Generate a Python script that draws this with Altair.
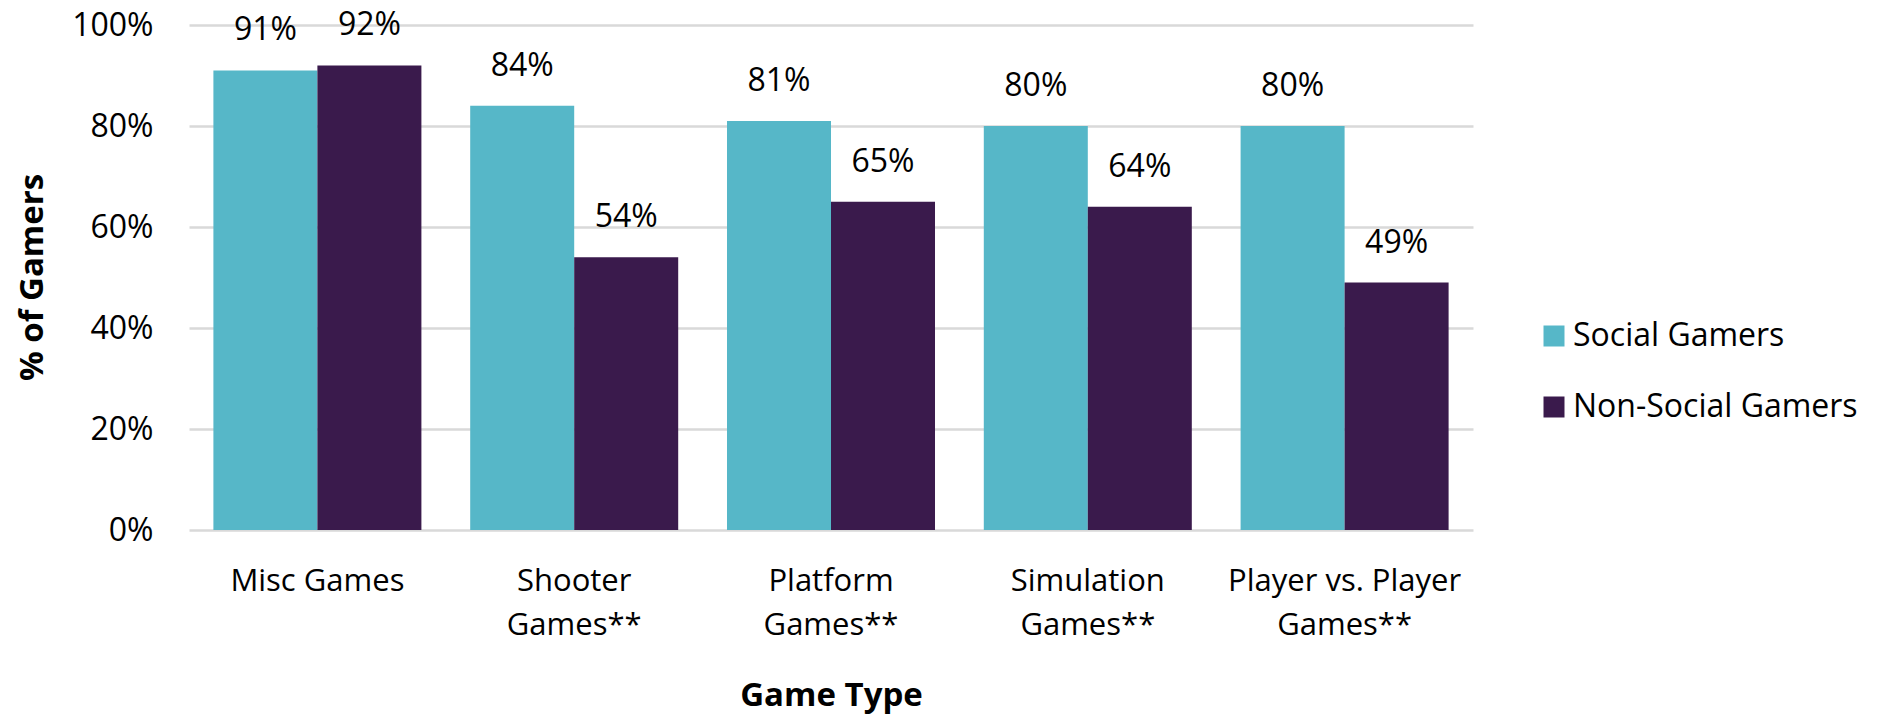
import altair as alt
import pandas as pd

categories = ["Misc Games", "Shooter|Games**", "Platform|Games**", "Simulation|Games**", "Player vs. Player|Games**"]
series = ["Social Gamers", "Non-Social Gamers"]
social = [91, 84, 81, 80, 80]
non_social = [92, 54, 65, 64, 49]
colors = ["#56B7C8", "#3A1A4C"]
y_ticks = [0, 20, 40, 60, 80, 100]

rows = []
for c, s, n in zip(categories, social, non_social):
    rows.append({"cat": c, "series": series[0], "value": s})
    rows.append({"cat": c, "series": series[1], "value": n})
df = pd.DataFrame(rows)

FONT = "Open Sans"

x_enc = alt.X(
    "cat:N",
    sort=categories,
    scale=alt.Scale(paddingInner=0.19, paddingOuter=0.095),
    axis=alt.Axis(
        title="Game Type",
        labelExpr="split(datum.value, '|')",
        labelAngle=0,
        labelFont=FONT,
        labelFontSize=31,
        labelColor="#000000",
        labelBaseline="top",
        labelPadding=36,
        labelLineHeight=44,
        labelLimit=0,
        ticks=False,
        domain=False,
        titleFont=FONT,
        titleFontSize=33,
        titleFontWeight="bold",
        titleColor="#000000",
        titleBaseline="alphabetic",
        titleY=175,
    ),
)
xoff_enc = alt.XOffset("series:N", sort=series, scale=alt.Scale(paddingInner=0, paddingOuter=0))
y_enc = alt.Y(
    "value:Q",
    scale=alt.Scale(domain=[0, 100], nice=False),
    axis=alt.Axis(
        title="% of Gamers",
        values=y_ticks,
        labelExpr="datum.value + '%'",
        labelFont=FONT,
        labelFontSize=32,
        labelColor="#000000",
        labelPadding=36,
        ticks=False,
        domain=False,
        grid=True,
        gridColor="#d9d9d9",
        gridWidth=2.5,
        titleFont=FONT,
        titleFontSize=33,
        titleFontWeight="bold",
        titleColor="#000000",
        titleAngle=270,
        titleBaseline="alphabetic",
        titleAlign="center",
        titleX=-147,
        titleY=252,
    ),
)

bars = alt.Chart(df).mark_bar().encode(
    x=x_enc,
    xOffset=xoff_enc,
    y=y_enc,
    color=alt.Color(
        "series:N",
        sort=series,
        scale=alt.Scale(domain=series, range=colors),
        legend=alt.Legend(
            title=None,
            orient="none",
            legendX=1349,
            legendY=295,
            symbolType="square",
            symbolSize=441,
            symbolStrokeWidth=0,
            symbolOpacity=1,
            labelFont=FONT,
            labelFontSize=32,
            labelColor="#000000",
            labelOffset=3,
            labelLimit=0,
            rowPadding=39,
        ),
    ),
)

labels = alt.Chart(df).transform_calculate(
    label="datum.value + '%'"
).mark_text(
    font=FONT, fontSize=32, color="#000000", baseline="alphabetic", dy=-30
).encode(
    x=alt.X("cat:N", sort=categories),
    xOffset=alt.XOffset("series:N", sort=series),
    y=alt.Y("value:Q"),
    text="label:N",
)

chart = alt.layer(bars, labels).properties(
    width=1284,
    height=505,
    background="white",
    padding={"left": 189, "top": 25, "right": 404, "bottom": 184},
    autosize=alt.AutoSizeParams(type="none"),
).configure_view(strokeWidth=0, stroke=None)

chart.save("out.html", embed_options={"renderer": "svg", "actions": False})
